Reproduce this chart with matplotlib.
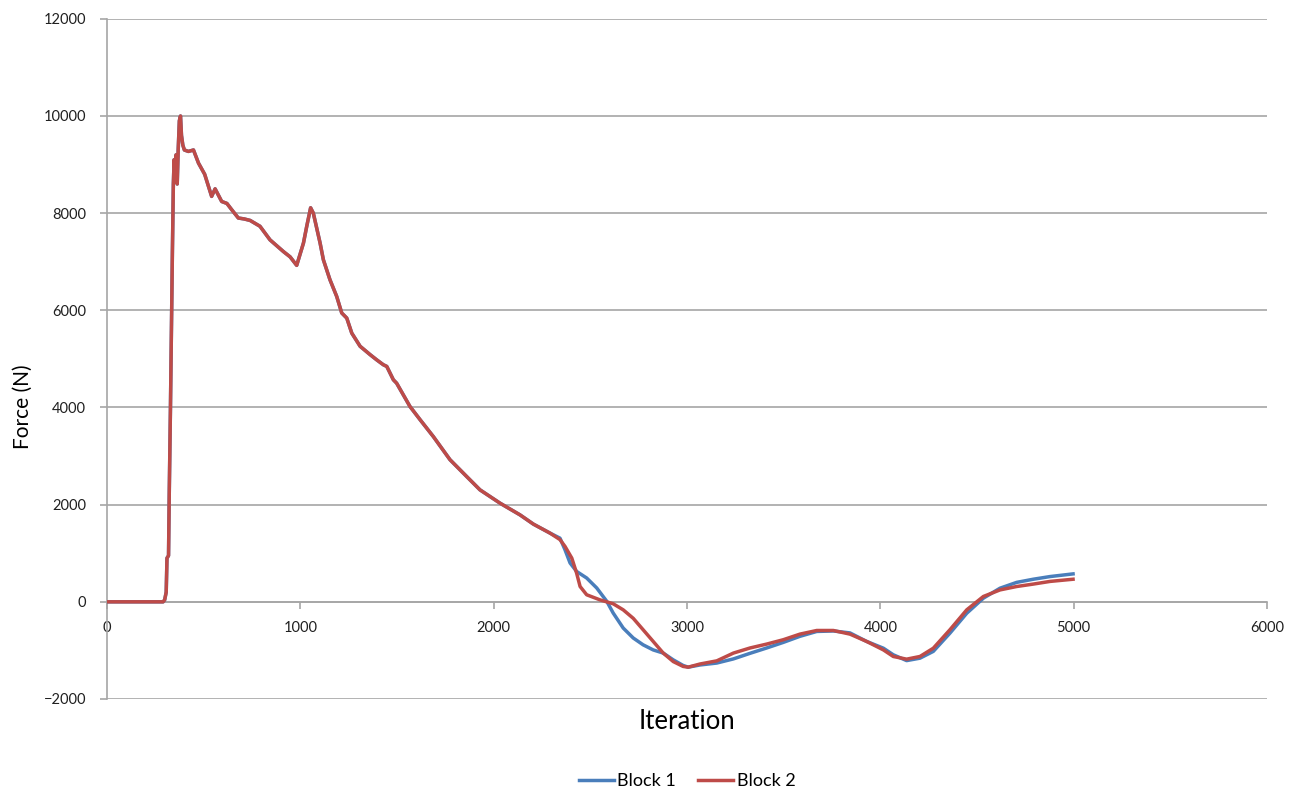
import numpy as np
import matplotlib
matplotlib.use("Agg")
import matplotlib.pyplot as plt

# dati: tratto comune ai due blocchi
iter_common = [0, 290, 298, 302, 306, 310, 318, 322, 328, 333, 338, 343, 347, 352, 357,
               363, 368, 374, 380, 385, 392, 400, 421, 447, 473, 505, 541, 559, 593,
               620, 645, 679, 710, 740, 791, 843, 912, 947, 981, 1016, 1033, 1053, 1067,
               1102, 1119, 1153, 1188, 1214, 1240, 1266, 1309, 1360, 1395, 1429, 1447,
               1481, 1498, 1567, 1619, 1688, 1774, 1860, 1929, 2033, 2136, 2205, 2291]
force_common = [0, 0, 40, 120, 200, 900, 950, 2300, 4000, 5600, 7200, 8600, 9100, 8800, 9200,
                8600, 9300, 9900, 10000, 9600, 9400, 9300, 9270, 9300, 9030, 8800, 8345, 8500, 8240,
                8200, 8070, 7900, 7880, 7850, 7730, 7450, 7210, 7100, 6925, 7385, 7730, 8110, 8000,
                7385, 7040, 6630, 6285, 5945, 5840, 5530, 5260, 5090, 4980, 4880, 4845,
                4570, 4500, 4020, 3750, 3400, 2925, 2580, 2305, 2030, 1790, 1600, 1415]

# tratto finale, diverso per ciascun blocco
iter_b1 = [2343, 2369, 2395, 2429, 2481, 2533, 2585, 2618, 2670, 2722, 2773, 2825, 2877,
           2929, 2980, 3006, 3067, 3154, 3240, 3326, 3412, 3498, 3584, 3671, 3757, 3843,
           3929, 4016, 4067, 4136, 4205, 4274, 4360, 4447, 4533, 4619, 4705, 4791, 4878, 4997]
force_b1 = [1310, 1070, 800, 625, 490, 285, 10, -230, -540, -745, -885, -990, -1055,
            -1195, -1310, -1345, -1300, -1260, -1175, -1060, -950, -835, -710, -610, -600, -640,
            -815, -955, -1090, -1210, -1160, -1020, -645, -235, 75, 280, 400, 465, 520, 575]

iter_b2 = [2343, 2369, 2404, 2429, 2447, 2481, 2550, 2618, 2670, 2722, 2773, 2825, 2877,
           2929, 2980, 3006, 3067, 3154, 3240, 3326, 3412, 3498, 3584, 3671, 3757, 3843,
           3929, 4016, 4067, 4136, 4205, 4274, 4360, 4447, 4533, 4619, 4705, 4791, 4878, 4997]
force_b2 = [1280, 1140, 900, 590, 315, 145, 40, -40, -165, -340, -575, -815, -1055,
            -1230, -1330, -1345, -1280, -1215, -1055, -950, -870, -780, -665, -590, -590, -665,
            -815, -990, -1125, -1180, -1125, -955, -575, -165, 110, 245, 315, 365, 420, 465]

x1 = iter_common + iter_b1
y1 = force_common + force_b1
x2 = iter_common + iter_b2
y2 = force_common + force_b2

plt.rcParams['font.family'] = ['Lato', 'DejaVu Sans']
GRID = '#a6a6a6'

fig = plt.figure(figsize=(12.96, 7.90), dpi=100)
ax = fig.add_axes([0.0826, 0.1152, 0.895, 0.861])

ax.plot(x1, y1, color='#4a7ebb', lw=2.5, label='Block 1', zorder=3)
ax.plot(x2, y2, color='#be4b48', lw=2.5, label='Block 2', zorder=4)

ax.set_xlim(0, 6000)
ax.set_ylim(-2000, 12000)
ax.set_xticks(np.arange(0, 6001, 1000))
ax.set_yticks(np.arange(-2000, 12001, 2000))
ax.yaxis.grid(True, color=GRID, lw=1.2)
ax.set_axisbelow(True)

for s in ['top', 'right']:
    ax.spines[s].set_visible(False)
ax.spines['left'].set_color(GRID)
ax.spines['left'].set_linewidth(1.2)
ax.spines['bottom'].set_position(('data', 0))
ax.spines['bottom'].set_color(GRID)
ax.spines['bottom'].set_linewidth(1.2)
ax.tick_params(axis='both', direction='out', length=5, width=1.2, color=GRID,
               labelsize=10.5, labelcolor='#202020')
ax.tick_params(axis='x', pad=9)
ax.tick_params(axis='y', pad=10)

ax.set_ylabel('Force (N)', fontsize=15)
ax.yaxis.set_label_coords(-0.064, 0.43)
ax.set_xlabel('Iteration', fontsize=18.5)
ax.xaxis.set_label_coords(0.5, -0.014)

ax.legend(loc='center', bbox_to_anchor=(0.5, -0.121), ncol=2, frameon=False,
          fontsize=13, handlelength=1.95, columnspacing=1.2, handletextpad=0.2)

fig.savefig('out.png', dpi=100)
